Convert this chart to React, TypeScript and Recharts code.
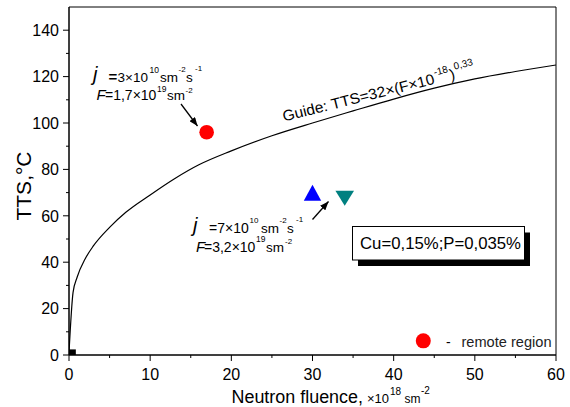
import { ComposedChart, Line, Scatter, XAxis, YAxis, ReferenceArea } from 'recharts';

const FONT = "'Liberation Sans', Arial, Helvetica, sans-serif";

// guide curve (fluence in 1e18 sm^-2, TTS in °C)
const guideFluence = [0, 0.5, 1, 2, 3, 5, 7, 10, 13, 16, 20, 25, 30, 35, 40, 45, 50, 55, 60];
const guideTTS = [1, 27, 33.5, 41.5, 47, 55, 61.5, 69, 76, 82, 88, 94.5, 100, 105.2, 110.3, 115, 119, 122.2, 125];

// measured points
const lowFluxPoint = [{ x: 16.96, y: 96 }];
const highFluxUp = [{ x: 30, y: 69.9 }];
const highFluxDown = [{ x: 33.97, y: 67.6 }];
const initialPoint = [{ x: 0.41, y: 0.9 }];
const remoteLegend = [{ x: 43.65, y: 6.1 }];

const xTicks = [0, 5, 10, 15, 20, 25, 30, 35, 40, 45, 50, 55, 60];
const yTicks = [0, 10, 20, 30, 40, 50, 60, 70, 80, 90, 100, 110, 120, 130, 140];

const guideData = guideFluence.map((x, i) => ({ x, y: guideTTS[i] }));

function XTick({ x, y, payload }: any) {
  const major = payload.value % 10 === 0;
  return (
    <g>
      <line x1={x} y1={y} x2={x} y2={y + (major ? 6 : 3)} stroke="#000" />
      {major && (
        <text x={x} y={y + 25} textAnchor="middle" fontSize={16} fill="#000" fontFamily={FONT}>
          {payload.value}
        </text>
      )}
    </g>
  );
}

function YTick({ x, y, payload }: any) {
  const major = payload.value % 20 === 0;
  return (
    <g>
      <line x1={x - (major ? 6 : 3)} y1={y} x2={x} y2={y} stroke="#000" />
      {major && (
        <text x={x - 10} y={y} dy="0.36em" textAnchor="end" fontSize={16} fill="#000" fontFamily={FONT}>
          {payload.value}
        </text>
      )}
    </g>
  );
}

const circle = (r: number, fill: string) => (p: any) => <circle cx={p.cx} cy={p.cy} r={r} fill={fill} />;

const triUp = (p: any) => (
  <polygon points={`${p.cx},${p.cy - 8} ${p.cx + 8.7},${p.cy + 7.8} ${p.cx - 8.7},${p.cy + 7.8}`} fill="#0000ff" />
);

const triDown = (p: any) => (
  <polygon points={`${p.cx - 9.3},${p.cy - 7.5} ${p.cx + 9.3},${p.cy - 7.5} ${p.cx},${p.cy + 7.5}`} fill="#008080" />
);

const square = (p: any) => <rect x={p.cx - 3.5} y={p.cy - 3.5} width={7} height={7} fill="#000" />;

function Annotations() {
  return (
    <svg
      width={570}
      height={407}
      style={{ position: 'absolute', left: 0, top: 0, pointerEvents: 'none' }}
      fontFamily={FONT}
      fill="#000"
    >
      <defs>
        <marker id="ah" viewBox="0 0 10 8" refX={10} refY={4} markerWidth={9} markerHeight={7} markerUnits="userSpaceOnUse" orient="auto">
          <path d="M0,0 L10,4 L0,8 z" fill="#000" />
        </marker>
      </defs>

      {/* low flux label */}
      <text fontSize={13.5}>
        <tspan x={93} y={81} fontSize={20} fontStyle="italic">j</tspan>
        <tspan x={108.5} y={82} fontSize={15} fontWeight="bold">=</tspan>
        <tspan x={117.5} y={82}>3×10</tspan>
        <tspan x={149.5} y={72.5} fontSize={8.5}>10</tspan>
        <tspan x={160} y={82}>sm</tspan>
        <tspan x={178.5} y={71.5} fontSize={8}>-2</tspan>
        <tspan x={186} y={82}>s</tspan>
        <tspan x={195} y={71} fontSize={8}>-1</tspan>
      </text>
      <text fontSize={14}>
        <tspan x={96.5} y={100} fontSize={15} fontStyle="italic">F</tspan>
        <tspan x={105} y={100}>=1,7×10</tspan>
        <tspan x={157} y={91.5} fontSize={8.5}>19</tspan>
        <tspan x={167} y={100} fontSize={13.5}>sm</tspan>
        <tspan x={185.5} y={92.5} fontSize={8}>-2</tspan>
      </text>
      <line x1={181} y1={104} x2={197.5} y2={126} stroke="#000" strokeWidth={1.3} markerEnd="url(#ah)" />

      {/* high flux label */}
      <text fontSize={13.5}>
        <tspan x={193} y={232} fontSize={20} fontStyle="italic">j</tspan>
        <tspan x={209} y={233} fontSize={14}>=7×10</tspan>
        <tspan x={249.5} y={222.5} fontSize={8}>10</tspan>
        <tspan x={261} y={233}>sm</tspan>
        <tspan x={279.5} y={222.5} fontSize={8}>-2</tspan>
        <tspan x={287} y={233}>s</tspan>
        <tspan x={296} y={222} fontSize={8}>-1</tspan>
      </text>
      <text fontSize={14}>
        <tspan x={196} y={251.5} fontSize={15} fontStyle="italic">F</tspan>
        <tspan x={204} y={251.5}>=3,2×10</tspan>
        <tspan x={256} y={242} fontSize={8.5}>19</tspan>
        <tspan x={266} y={251.5} fontSize={13.5}>sm</tspan>
        <tspan x={285} y={243.5} fontSize={8}>-2</tspan>
      </text>
      <line x1={312.5} y1={219.5} x2={328.5} y2={201.5} stroke="#000" strokeWidth={1.3} markerEnd="url(#ah)" />

      {/* guide label along the curve */}
      <text fontSize={15} transform="translate(284,121.5) rotate(-14)">
        <tspan x={0} y={0} textLength={156} lengthAdjust="spacingAndGlyphs">Guide: TTS=32×(F×10</tspan>
        <tspan x={157} y={-8} fontSize={10}>-18</tspan>
        <tspan x={172} y={0}>)</tspan>
        <tspan x={178} y={-9} fontSize={10}>0,33</tspan>
      </text>

      {/* composition box */}
      <rect x={358} y={232.5} width={172} height={33.5} fill="#000" />
      <rect x={352.5} y={226.5} width={172} height={33.5} fill="#fff" stroke="#000" />
      <text fontSize={16} x={360} y={248.5} textLength={161} lengthAdjust="spacingAndGlyphs">Cu=0,15%;P=0,035%</text>

      {/* legend text */}
      <text fontSize={14}>
        <tspan x={446} y={346.5}>-</tspan>
        <tspan x={461.5} y={346.5} fill="#222" textLength={90} lengthAdjust="spacingAndGlyphs">remote region</tspan>
      </text>

      {/* axis titles */}
      <text fontSize={18}>
        <tspan x={231.5} y={403} textLength={131.5} lengthAdjust="spacingAndGlyphs">Neutron fluence,</tspan>
        <tspan x={367} y={403} fontSize={13}>×10</tspan>
        <tspan x={390} y={395} fontSize={10}>18</tspan>
        <tspan x={404.5} y={403} fontSize={12}>sm</tspan>
        <tspan x={421} y={394} fontSize={10}>-2</tspan>
      </text>

      <text fontSize={21} textAnchor="middle" transform="translate(30.5,186) rotate(-90)">TTS,°C</text>
    </svg>
  );
}

export default function App() {
  return (
    <div style={{ position: 'absolute', left: 0, top: 0, width: 570, height: 407, background: '#fff' }}>
      <ComposedChart width={570} height={407} margin={{ top: 7, right: 14, left: 0, bottom: 0 }}>
        <XAxis
          type="number"
          dataKey="x"
          domain={[0, 60]}
          ticks={xTicks}
          interval={0}
          height={52}
          tickSize={0}
          tickMargin={0}
          tickLine={false}
          tick={<XTick />}
          axisLine={{ stroke: '#000' }}
          allowDataOverflow
        />
        <YAxis
          type="number"
          domain={[0, 150]}
          ticks={yTicks}
          interval={0}
          width={69}
          tickSize={0}
          tickMargin={0}
          tickLine={false}
          tick={<YTick />}
          axisLine={{ stroke: '#000' }}
          allowDataOverflow
        />
        <ReferenceArea x1={0} x2={60} y1={0} y2={150} fill="none" stroke="#000" strokeWidth={1} fillOpacity={0} />
        <Line
          data={guideData}
          dataKey="y"
          type="monotone"
          stroke="#000"
          strokeWidth={1.2}
          dot={false}
          activeDot={false}
          isAnimationActive={false}
        />
        <Scatter data={initialPoint} dataKey="y" shape={square} isAnimationActive={false} />
        <Scatter data={lowFluxPoint} dataKey="y" shape={circle(7.3, '#ff0000')} isAnimationActive={false} />
        <Scatter data={highFluxUp} dataKey="y" shape={triUp} isAnimationActive={false} />
        <Scatter data={highFluxDown} dataKey="y" shape={triDown} isAnimationActive={false} />
        <Scatter data={remoteLegend} dataKey="y" shape={circle(7.5, '#ff0000')} isAnimationActive={false} />
      </ComposedChart>
      <Annotations />
    </div>
  );
}
